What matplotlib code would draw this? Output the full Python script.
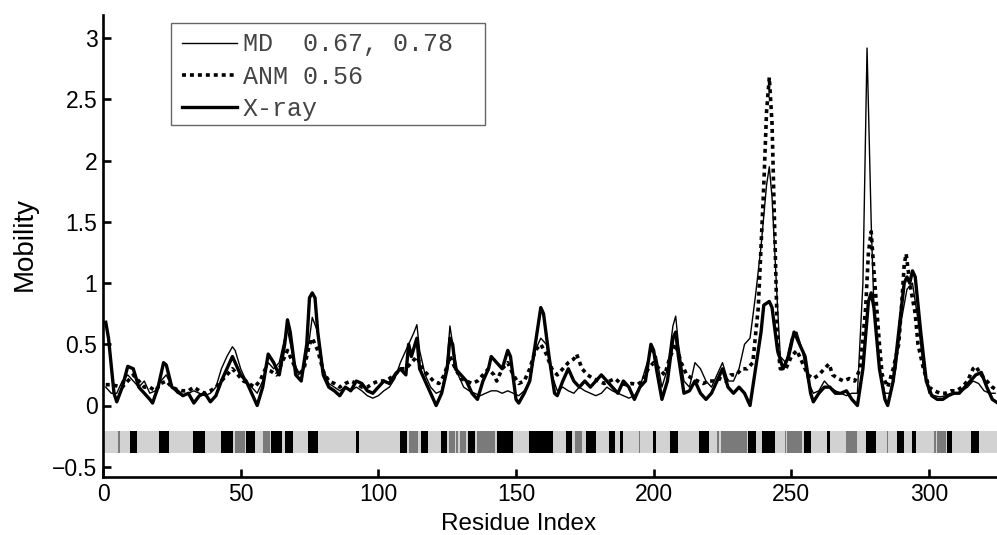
import matplotlib
matplotlib.use("Agg")
import matplotlib.pyplot as plt
from matplotlib.patches import Rectangle

# ---------------- data ----------------
xray_x = [1, 2, 4, 5, 7, 9, 11, 13, 15, 17, 18, 20, 22, 23, 25, 27, 29, 31, 33, 35, 37, 39, 41, 43, 45, 47, 48, 50,
          52, 54, 56, 58, 60, 62, 64, 66, 67, 68, 70, 72, 74, 75, 76, 77, 78, 80, 82, 84, 86, 88, 90, 92, 94, 96, 98,
          100, 102, 104, 106, 108, 110, 111, 112, 114, 115, 117, 119, 121, 123, 125, 126, 127, 128, 130, 132, 134,
          136, 138, 140, 141, 143, 145, 147, 148, 150, 151, 153, 155, 157, 159, 160, 162, 164, 165, 167, 169, 171,
          173, 175, 177, 179, 181, 183, 185, 187, 189, 191, 193, 195, 197, 199, 200, 201, 203, 205, 207, 208, 209,
          211, 213, 215, 217, 219, 221, 223, 225, 227, 229, 231, 233, 235, 237, 239, 240, 242, 243, 245, 247, 249,
          251, 253, 255, 257, 258, 260, 262, 264, 266, 268, 270, 272, 274, 276, 278, 279, 280, 282, 284, 285, 287,
          289, 291, 292, 293, 294, 295, 297, 299, 301, 303, 305, 307, 309, 311, 313, 315, 317, 319, 321, 323, 325]
xray_y = [0.68, 0.55, 0.10, 0.03, 0.15, 0.32, 0.30, 0.15, 0.10, 0.05, 0.02, 0.15, 0.35, 0.33, 0.15, 0.12, 0.08, 0.10,
          0.02, 0.08, 0.10, 0.03, 0.08, 0.20, 0.30, 0.40, 0.35, 0.25, 0.20, 0.10, 0.00, 0.15, 0.42, 0.35, 0.25, 0.50,
          0.70, 0.60, 0.25, 0.20, 0.50, 0.88, 0.92, 0.88, 0.60, 0.25, 0.15, 0.12, 0.08, 0.15, 0.12, 0.20, 0.18, 0.12,
          0.10, 0.15, 0.20, 0.18, 0.25, 0.30, 0.25, 0.50, 0.40, 0.55, 0.30, 0.20, 0.10, 0.00, 0.10, 0.30, 0.55, 0.50,
          0.30, 0.25, 0.20, 0.10, 0.05, 0.20, 0.30, 0.40, 0.35, 0.30, 0.45, 0.40, 0.05, 0.02, 0.10, 0.20, 0.50, 0.80,
          0.75, 0.40, 0.10, 0.08, 0.20, 0.30, 0.20, 0.15, 0.20, 0.15, 0.20, 0.25, 0.20, 0.15, 0.10, 0.20, 0.15, 0.05,
          0.15, 0.20, 0.50, 0.45, 0.30, 0.05, 0.20, 0.55, 0.60, 0.40, 0.10, 0.12, 0.20, 0.10, 0.05, 0.10, 0.20, 0.30,
          0.15, 0.10, 0.15, 0.10, 0.00, 0.30, 0.60, 0.82, 0.85, 0.80, 0.45, 0.30, 0.40, 0.60, 0.50, 0.40, 0.10, 0.03,
          0.10, 0.15, 0.15, 0.10, 0.10, 0.12, 0.05, 0.00, 0.30, 0.85, 0.92, 0.80, 0.30, 0.05, 0.00, 0.20, 0.60, 1.00,
          1.05, 1.00, 1.10, 1.05, 0.60, 0.20, 0.08, 0.05, 0.05, 0.08, 0.10, 0.10, 0.15, 0.20, 0.25, 0.27, 0.15, 0.05,
          0.02]

md_x = [1, 3, 5, 7, 9, 11, 13, 15, 17, 19, 21, 23, 25, 27, 29, 31, 33, 35, 37, 39, 41, 43, 45, 47, 48, 50, 52, 54,
        56, 58, 60, 62, 64, 66, 67, 69, 71, 73, 75, 76, 78, 80, 82, 84, 86, 88, 90, 92, 94, 96, 98, 100, 102, 104,
        106, 108, 110, 112, 113, 114, 115, 117, 119, 121, 123, 125, 126, 127, 129, 131, 133, 135, 137, 139, 141, 143,
        145, 147, 149, 151, 153, 155, 157, 159, 161, 163, 165, 167, 169, 171, 173, 175, 177, 179, 181, 183, 185, 187,
        189, 191, 193, 195, 197, 199, 201, 203, 205, 207, 208, 209, 211, 213, 215, 217, 219, 221, 223, 225, 227, 229,
        231, 233, 235, 237, 239, 241, 242, 243, 245, 246, 248, 250, 252, 254, 256, 258, 260, 262, 264, 266, 268, 270,
        272, 274, 276, 277.5, 279, 280, 282, 284, 286, 288, 290, 292, 294, 296, 298, 300, 302, 304, 306, 308, 310,
        312, 314, 316, 318, 320, 322, 324]
md_y = [0.15, 0.10, 0.10, 0.20, 0.25, 0.20, 0.15, 0.20, 0.10, 0.12, 0.20, 0.25, 0.15, 0.10, 0.08, 0.10, 0.12, 0.10,
        0.08, 0.10, 0.15, 0.30, 0.40, 0.48, 0.45, 0.30, 0.20, 0.15, 0.10, 0.20, 0.35, 0.30, 0.35, 0.55, 0.62, 0.40,
        0.25, 0.30, 0.55, 0.72, 0.60, 0.30, 0.18, 0.15, 0.12, 0.15, 0.12, 0.15, 0.12, 0.08, 0.06, 0.08, 0.12, 0.15,
        0.22, 0.35, 0.45, 0.55, 0.60, 0.66, 0.45, 0.25, 0.15, 0.10, 0.12, 0.35, 0.65, 0.50, 0.25, 0.15, 0.12, 0.10,
        0.08, 0.10, 0.12, 0.12, 0.10, 0.12, 0.10, 0.08, 0.12, 0.20, 0.45, 0.55, 0.50, 0.25, 0.12, 0.15, 0.12, 0.10,
        0.15, 0.12, 0.10, 0.08, 0.10, 0.15, 0.12, 0.10, 0.08, 0.06, 0.08, 0.15, 0.30, 0.45, 0.40, 0.15, 0.30, 0.65,
        0.73, 0.50, 0.20, 0.15, 0.35, 0.30, 0.20, 0.15, 0.25, 0.35, 0.20, 0.20, 0.30, 0.50, 0.55, 0.90, 1.30, 1.80,
        1.95, 1.70, 0.80, 0.40, 0.35, 0.55, 0.60, 0.45, 0.20, 0.10, 0.12, 0.20, 0.15, 0.12, 0.10, 0.08, 0.10, 0.10,
        1.00, 2.92, 1.50, 0.80, 0.30, 0.10, 0.10, 0.30, 0.70, 0.95, 1.00, 0.70, 0.30, 0.10, 0.08, 0.07, 0.08, 0.10,
        0.10, 0.12, 0.15, 0.20, 0.18, 0.12, 0.10, 0.10]

anm_x = [1, 3, 5, 7, 9, 11, 13, 15, 17, 19, 21, 23, 25, 27, 29, 31, 33, 35, 37, 39, 41, 43, 45, 47, 49, 51, 53, 55,
         57, 59, 61, 63, 65, 67, 69, 71, 73, 75, 76, 78, 80, 82, 84, 86, 88, 90, 92, 94, 96, 98, 100, 102, 104, 106,
         108, 110, 112, 114, 116, 118, 120, 122, 124, 126, 128, 130, 132, 134, 136, 138, 140, 142, 143, 145, 147, 149,
         151, 153, 155, 157, 159, 161, 163, 165, 167, 169, 171, 172, 174, 176, 178, 180, 182, 184, 186, 188, 190,
         192, 194, 196, 198, 200, 202, 204, 206, 208, 210, 212, 214, 216, 218, 220, 222, 224, 226, 228, 230, 232,
         234, 236, 238, 240, 241, 242, 243, 244, 245, 246, 248, 250, 252, 254, 256, 258, 260, 262, 263.7, 265, 267,
         269, 271, 273, 275, 277, 278, 279, 280, 282, 283, 285, 287, 289, 290, 291, 291.7, 293, 295, 296, 298, 300,
         302, 304, 306, 308, 310, 312, 314, 316, 317, 319, 321, 323, 325]
anm_y = [0.17, 0.17, 0.16, 0.15, 0.20, 0.25, 0.20, 0.15, 0.15, 0.12, 0.18, 0.20, 0.15, 0.13, 0.12, 0.12, 0.15, 0.12,
         0.10, 0.12, 0.15, 0.20, 0.25, 0.30, 0.25, 0.20, 0.18, 0.15, 0.20, 0.30, 0.28, 0.25, 0.35, 0.45, 0.35, 0.25,
         0.30, 0.50, 0.55, 0.45, 0.28, 0.20, 0.18, 0.15, 0.18, 0.20, 0.18, 0.15, 0.15, 0.18, 0.20, 0.20, 0.22, 0.25,
         0.30, 0.30, 0.35, 0.40, 0.30, 0.25, 0.20, 0.18, 0.25, 0.40, 0.30, 0.22, 0.20, 0.18, 0.20, 0.25, 0.30, 0.25,
         0.20, 0.30, 0.35, 0.25, 0.18, 0.20, 0.30, 0.45, 0.50, 0.42, 0.30, 0.25, 0.30, 0.35, 0.38, 0.42, 0.30, 0.25,
         0.22, 0.20, 0.18, 0.20, 0.22, 0.18, 0.17, 0.18, 0.17, 0.20, 0.30, 0.35, 0.30, 0.25, 0.40, 0.50, 0.35, 0.25,
         0.22, 0.20, 0.18, 0.20, 0.20, 0.22, 0.20, 0.25, 0.25, 0.30, 0.30, 0.35, 0.80, 1.80, 2.40, 2.68, 2.30, 1.40,
         0.50, 0.30, 0.30, 0.40, 0.45, 0.35, 0.25, 0.22, 0.25, 0.30, 0.34, 0.25, 0.22, 0.20, 0.22, 0.20, 0.30, 0.80,
         1.25, 1.42, 1.10, 0.50, 0.25, 0.15, 0.30, 0.50, 0.80, 1.15, 1.24, 1.00, 0.75, 0.50, 0.30, 0.15, 0.12, 0.10,
         0.10, 0.12, 0.12, 0.15, 0.20, 0.30, 0.32, 0.25, 0.20, 0.15, 0.12]

# secondary-structure strip: 0 = coil (light), 1 = helix (black), 2 = strand (dark gray)
strip_start = [5.3, 9.8, 20.3, 32.7, 42.8, 47.9, 51.9, 58.0, 61.0, 66.0, 74.4, 91.8, 107.8, 111.0, 115.4, 122.6,
               125.5, 128.2, 129.5, 132.4, 135.7, 143.0, 154.6, 168.0, 171.6, 175.6, 183.6, 187.6, 194.5, 199.6,
               206.0, 216.6, 223.0, 224.6, 234.4, 239.5, 247.8, 248.5, 254.7, 263.0, 270.0, 277.2, 284.7, 288.5,
               294.0, 302.0, 303.0, 306.6, 315.3]
strip_end = [6.2, 12.3, 23.9, 37.0, 47.2, 51.5, 55.2, 60.6, 65.0, 69.0, 78.0, 92.9, 110.3, 114.3, 118.0, 124.8,
             127.7, 128.8, 132.0, 135.0, 142.2, 149.0, 163.3, 170.5, 173.8, 178.9, 186.1, 188.7, 195.2, 201.0,
             209.0, 220.2, 223.8, 234.0, 237.0, 244.2, 248.2, 254.0, 257.3, 264.2, 274.0, 280.8, 285.2, 291.0,
             295.3, 302.6, 306.2, 308.4, 318.2]
strip_code = [2, 1, 1, 1, 1, 2, 1, 2, 1, 1, 1, 1, 1, 2, 1, 1,
              2, 2, 2, 1, 2, 1, 1, 1, 2, 1, 1, 1, 2, 1,
              1, 1, 2, 2, 1, 1, 2, 2, 1, 1, 2, 1, 2, 1,
              1, 2, 2, 1, 1]

legend_labels = ["MD  0.67, 0.78", "ANM 0.56", "X-ray"]
x_ticks = [0, 50, 100, 150, 200, 250, 300]
y_ticks = [-0.5, 0, 0.5, 1, 1.5, 2, 2.5, 3]
y_ticklabels = ['\u22120.5', '0', '0.5', '1', '1.5', '2', '2.5', '3']

# ---------------- plot ----------------
W, H = 997, 535
plt.rcParams['font.family'] = ['Liberation Sans', 'DejaVu Sans']
fig = plt.figure(figsize=(W / 100, H / 100), dpi=100)
ax = fig.add_axes([103 / W, 58.5 / H, 894 / W, 461.5 / H])

ax.set_xlim(0, 324.7)
ax.set_ylim(-0.58, 3.19)

strip_lo, strip_hi = -0.385, -0.207
strip_colors = {0: '#d2d2d2', 1: '#000000', 2: '#7a7a7a'}
ax.bar([0], [strip_hi - strip_lo], width=[325], bottom=strip_lo, align='edge',
       color=strip_colors[0], linewidth=0, zorder=1)
for s, e, c in zip(strip_start, strip_end, strip_code):
    ax.bar([s], [strip_hi - strip_lo], width=[e - s], bottom=strip_lo, align='edge',
           color=strip_colors[c], linewidth=0, zorder=2)

l_md, = ax.plot(md_x, md_y, color='black', lw=1.0, zorder=3)
l_anm, = ax.plot(anm_x, anm_y, color='black', lw=2.6, linestyle=(0, (1.1, 1.1)), zorder=4)
l_x, = ax.plot(xray_x, xray_y, color='black', lw=2.4, zorder=5)

for side in ['top', 'right']:
    ax.spines[side].set_visible(False)
for side in ['left', 'bottom']:
    ax.spines[side].set_linewidth(1.9)

ax.set_xticks(x_ticks)
ax.set_yticks(y_ticks)
ax.set_yticklabels(y_ticklabels)
ax.tick_params(direction='in', length=6, width=1.9, labelsize=16.5)
ax.tick_params(axis='x', pad=4.5)
ax.tick_params(axis='y', pad=4)

# axis labels placed at measured pixel positions
fig.text(25 / W, 1 - 244 / H, 'Mobility', rotation=90, fontsize=20, ha='center', va='center')
fig.text(519 / W, 0.5 / H, 'Residue Index', fontsize=17.5, ha='center', va='bottom')

# legend with separate frame
frame = Rectangle((170.7 / W, 1 - 125 / H), (485 - 170.7) / W, (125 - 22.7) / H,
                  transform=fig.transFigure, facecolor='white', edgecolor='#666666',
                  linewidth=1.0, zorder=10)
fig.patches.append(frame)
leg = fig.legend([l_md, l_anm, l_x], legend_labels, loc='upper left',
                 bbox_to_anchor=(181.7 / W, 1 - 32.5 / H), bbox_transform=fig.transFigure,
                 borderaxespad=0, borderpad=0, frameon=False,
                 prop={'family': 'Liberation Mono', 'size': 18},
                 handlelength=2.2, handletextpad=0.25, labelspacing=0.33)
leg.set_zorder(11)
for t in leg.get_texts():
    t.set_color('#444444')

fig.savefig('out.png', dpi=100)
